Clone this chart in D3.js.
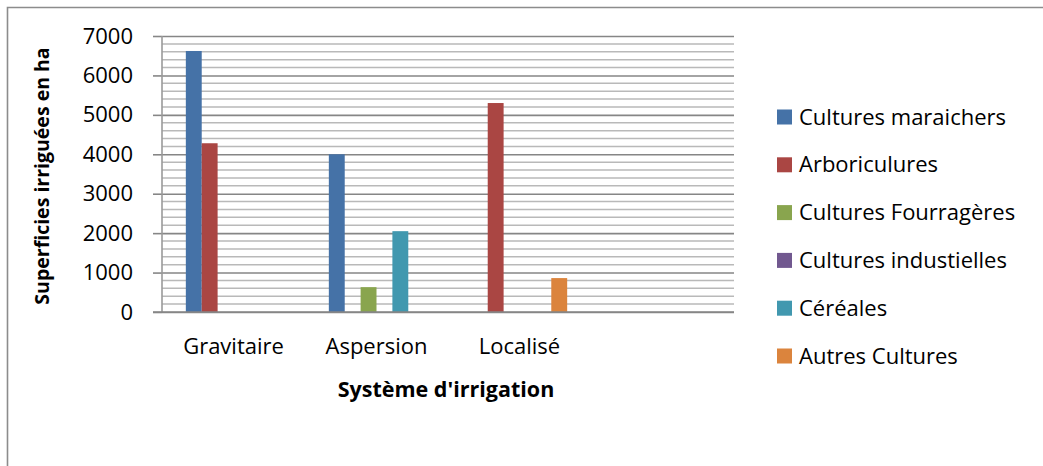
<!DOCTYPE html>
<html>
<head>
<meta charset="utf-8">
<script src="https://cdn.jsdelivr.net/npm/d3@7"></script>
<style>
  html, body { margin: 0; padding: 0; background: #fff; }
  svg { display: block; font-family: "Open Sans", Lato, sans-serif; }
</style>
</head>
<body>
<svg id="chart" width="1043" height="466"></svg>
<script>
// Irrigated surface (ha) by irrigation system and crop group
const systems = ["Gravitaire", "Aspersion", "Localisé", ""];
const seriesNames = ["Cultures maraichers", "Arboriculures", "Cultures Fourragères",
                     "Cultures industielles", "Céréales", "Autres Cultures"];
const culturesMaraichers   = [6620, 4000, 0, 0];
const arboricultures       = [4280, 0, 5300, 0];
const culturesFourrageres  = [0, 630, 0, 0];
const culturesIndustielles = [0, 0, 0, 0];
const cereales             = [0, 2050, 0, 0];
const autresCultures       = [0, 0, 860, 0];
const yTicks = [0, 1000, 2000, 3000, 4000, 5000, 6000, 7000];
const colors = ["#4572A7", "#AA4643", "#89A54E", "#71588F", "#4198AF", "#DB843D"];

const seriesValues = [culturesMaraichers, arboricultures, culturesFourrageres,
                      culturesIndustielles, cereales, autresCultures];

const FONT = "'Open Sans', Lato, sans-serif";
const FS = 22;

const svg = d3.select("#chart");
const plot = { left: 162, right: 734, top: 36, bottom: 312 };

// outer frame (top and left edges)
svg.append("path")
  .attr("d", "M7.5,466V7.5H1043")
  .attr("fill", "none").attr("stroke", "#8c8c8c").attr("stroke-width", 1.6);

const y = d3.scaleLinear().domain([0, 7000]).range([plot.bottom, plot.top]);
const x = d3.scaleBand().domain(systems).range([plot.left, plot.right]);
// bar width = band / 9, with 1.5 bar widths of space on each side of a cluster
const bw = x.bandwidth() / 9;
const inner = d3.scaleBand().domain(d3.range(seriesNames.length))
  .range([1.5 * bw, x.bandwidth() - 1.5 * bw]);

// minor gridlines every 200
const minor = d3.range(200, 7001, 200).filter(v => v % 1000 !== 0);
svg.append("g").selectAll("line").data(minor).join("line")
  .attr("x1", plot.left).attr("x2", plot.right)
  .attr("y1", d => y(d)).attr("y2", d => y(d))
  .attr("stroke", "#b9b9b9").attr("stroke-width", 1.5);

// major gridlines via axis
const yAxis = d3.axisLeft(y).tickValues(yTicks)
  .tickSize(-(plot.right - plot.left)).tickFormat(d3.format("d")).tickPadding(29);
const gy = svg.append("g").attr("transform", `translate(${plot.left},0)`).call(yAxis);
gy.select(".domain").remove();
gy.selectAll(".tick line").attr("stroke", "#868686").attr("stroke-width", 1.6);
gy.selectAll(".tick").append("line")
  .attr("x1", -9).attr("x2", 0).attr("stroke", "#868686").attr("stroke-width", 1.6);
gy.selectAll(".tick text")
  .attr("font-size", FS).attr("fill", "#000").attr("font-family", FONT);

// vertical axis line
svg.append("line")
  .attr("x1", plot.left).attr("x2", plot.left)
  .attr("y1", plot.top).attr("y2", plot.bottom)
  .attr("stroke", "#9a9a9a").attr("stroke-width", 1.6);

// bars
const groups = svg.append("g").selectAll("g").data(seriesNames).join("g")
  .attr("fill", (d, i) => colors[i]);
groups.each(function (name, si) {
  d3.select(this).selectAll("rect")
    .data(seriesValues[si].map((v, ci) => ({ v, cat: systems[ci] })).filter(d => d.v > 0))
    .join("rect")
    .attr("x", d => x(d.cat) + inner(si))
    .attr("width", inner.bandwidth())
    .attr("y", d => y(d.v))
    .attr("height", d => y(0) - y(d.v));
});

// baseline
svg.append("line")
  .attr("x1", plot.left - 9).attr("x2", plot.right)
  .attr("y1", plot.bottom).attr("y2", plot.bottom)
  .attr("stroke", "#868686").attr("stroke-width", 1.6);

// category labels
const xAxis = d3.axisBottom(x).tickSize(0).tickPadding(0);
const gx = svg.append("g").attr("transform", `translate(0,${plot.bottom})`).call(xAxis);
gx.select(".domain").remove();
gx.selectAll(".tick text")
  .attr("dy", null).attr("y", 42)
  .attr("font-size", FS).attr("fill", "#000").attr("font-family", FONT);

// axis titles
svg.append("text")
  .attr("x", 446).attr("y", 397)
  .attr("text-anchor", "middle").attr("font-size", 21.5).attr("font-weight", "bold")
  .text("Système d'irrigation");
svg.append("text")
  .attr("transform", "translate(49,176) rotate(-90)")
  .attr("text-anchor", "middle").attr("font-size", 19.5).attr("font-weight", "bold")
  .text("Superficies irriguées en ha");

// legend
const legend = svg.append("g").selectAll("g").data(seriesNames).join("g")
  .attr("transform", (d, i) => `translate(777,${109.5 + i * 47.8})`);
legend.append("rect").attr("width", 15).attr("height", 15).attr("fill", (d, i) => colors[i]);
legend.append("text").attr("x", 22).attr("y", 15).attr("font-size", FS).text(d => d);
</script>
</body>
</html>
